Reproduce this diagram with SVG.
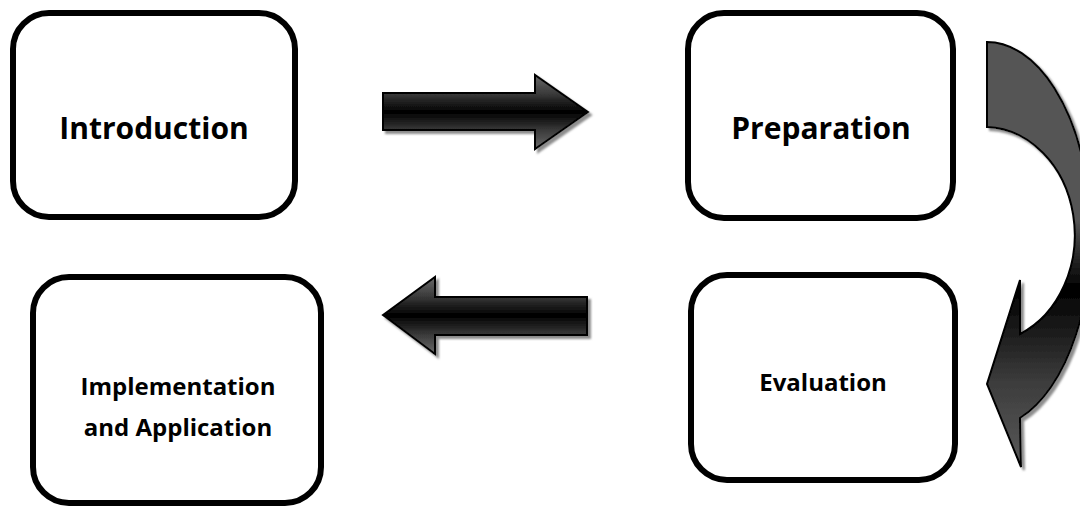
<svg xmlns="http://www.w3.org/2000/svg" width="1080" height="508" viewBox="0 0 1080 508">
  <style>
    .box { fill: #ffffff; stroke: #000000; stroke-width: 6; }
    .lbl { font-family: "Open Sans", "Liberation Sans", sans-serif; font-weight: bold; fill: #000000; text-anchor: middle; }
    .big { font-size: 30px; }
    .small { font-size: 24px; }
    .arrow { stroke: #000000; stroke-width: 2; stroke-linejoin: miter; filter: url(#shadow); }
  </style>
  <defs>
    <linearGradient id="gStraight" x1="0" y1="0" x2="0" y2="1">
      <stop offset="0" stop-color="#6a6a6a"/>
      <stop offset="0.25" stop-color="#3a3a3a"/>
      <stop offset="0.5" stop-color="#000000"/>
      <stop offset="0.75" stop-color="#3a3a3a"/>
      <stop offset="1" stop-color="#6a6a6a"/>
    </linearGradient>
    <linearGradient id="gCurve" x1="0" y1="0" x2="0" y2="1">
      <stop offset="0" stop-color="#555555"/>
      <stop offset="0.42" stop-color="#555555"/>
      <stop offset="0.58" stop-color="#000000"/>
      <stop offset="0.8" stop-color="#3c3c3c"/>
      <stop offset="1" stop-color="#5a5a5a"/>
    </linearGradient>
    <filter id="shadow" x="-10%" y="-10%" width="130%" height="130%">
      <feDropShadow dx="3" dy="3" stdDeviation="0.8" flood-color="#808080" flood-opacity="0.9"/>
    </filter>
  </defs>

  <g id="node-introduction">
    <rect class="box" x="13" y="13" width="282" height="204" rx="36" ry="36"/>
    <text class="lbl big" x="154" y="139">Introduction</text>
  </g>

  <g id="node-preparation">
    <rect class="box" x="688" y="13" width="265" height="205" rx="36" ry="36"/>
    <text class="lbl big" x="821" y="139">Preparation</text>
  </g>

  <g id="node-evaluation">
    <rect class="box" x="691" y="275" width="264" height="205" rx="36" ry="36"/>
    <text class="lbl small" x="823" y="391">Evaluation</text>
  </g>

  <g id="node-implementation">
    <rect class="box" x="33" y="277" width="288" height="226" rx="36" ry="36"/>
    <text class="lbl small" x="178" y="395">Implementation</text>
    <text class="lbl small" x="178" y="436">and Application</text>
  </g>

  <g id="connectors">
    <path class="arrow" fill="url(#gStraight)" d="M383,93 L535,93 L535,75 L588,112 L535,149 L535,130 L383,130 Z"/>
    <path class="arrow" fill="url(#gCurve)" d="M987,42 A104,193 0 0 1 1020,418 L1021,467 L987,384 L1020,280 L1020,334 A91,108 0 0 0 987,127 Z"/>
    <path class="arrow" fill="url(#gStraight)" d="M383,315 L435,277 L435,297 L587,297 L587,335 L435,335 L435,354 Z"/>
  </g>
</svg>
